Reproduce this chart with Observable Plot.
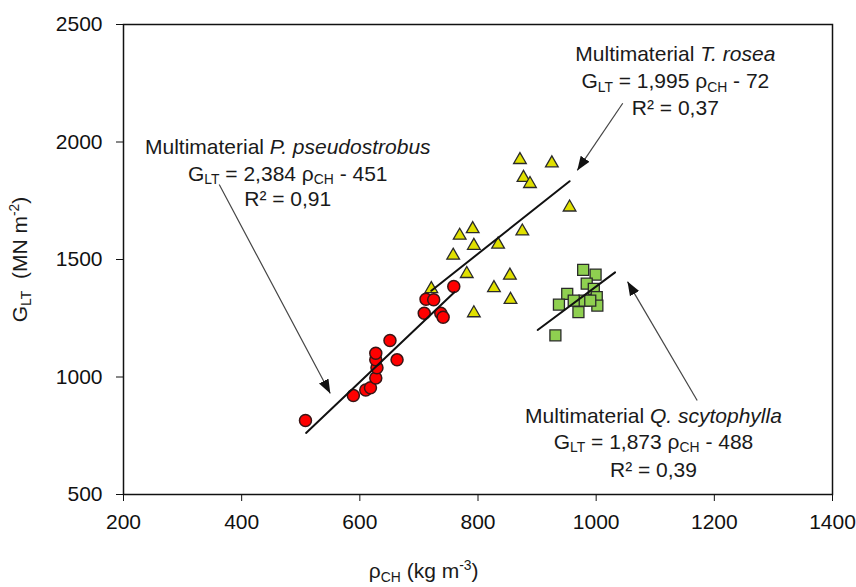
<!DOCTYPE html>
<html><head><meta charset="utf-8">
<script src="https://cdn.jsdelivr.net/npm/d3@7"></script>
<script src="https://cdn.jsdelivr.net/npm/@observablehq/plot@0.6"></script>
<style>html,body{margin:0;padding:0;background:#fff;} #chart{width:856px;height:587px;}</style>
</head><body><div id="chart"></div>
<script>
// ---- axis ticks
const xTicks = [200, 400, 600, 800, 1000, 1200, 1400];
const yTicks = [500, 1000, 1500, 2000, 2500];

// ---- Multimaterial P. pseudostrobus (red circles)
const pseudostrobusX = [508, 589, 610, 618, 627, 629, 627, 627, 663, 651, 709, 737, 741, 712, 725, 759];
const pseudostrobusY = [815, 921, 945, 954, 996, 1039, 1073, 1101, 1073, 1155, 1271, 1271, 1254, 1331, 1329, 1385];

// ---- Multimaterial T. rosea (yellow triangles)
const roseaX = [871, 925, 877, 888, 955, 875, 791, 769, 793, 834, 758, 781, 854, 827, 855, 793, 721];
const roseaY = [1924, 1910, 1848, 1822, 1722, 1620, 1630, 1602, 1559, 1564, 1517, 1439, 1432, 1379, 1329, 1272, 1375];

// ---- Multimaterial Q. scytophylla (green squares)
const scytophyllaX = [978, 999, 984, 996, 951, 1001, 980, 962, 937, 970, 1002, 990, 931];
const scytophyllaY = [1456, 1436, 1397, 1375, 1354, 1340, 1325, 1325, 1308, 1276, 1304, 1325, 1177];

// ---- trend line end points
const trendSeries = ["P", "P", "T", "T", "Q", "Q"];
const trendX = [509, 760, 721, 955, 901, 1032];
const trendY = [762, 1361, 1367, 1833, 1200, 1445];

// ---- annotation arrows
const arrowX1 = [362, 1045, 1171];
const arrowY1 = [1819, 2165, 900];
const arrowX2 = [550, 968, 1053];
const arrowY2 = [930, 1879, 1406];

// ---- annotation texts
const annText = [
  "Multimaterial *P. pseudostrobus*", "G_{LT} = 2,384 ρ_{CH} - 451", "R² = 0,91",
  "Multimaterial *T. rosea*", "G_{LT} = 1,995 ρ_{CH} - 72", "R² = 0,37",
  "Multimaterial *Q. scytophylla*", "G_{LT} = 1,873 ρ_{CH} - 488", "R² = 0,39"
];
const annX = [478, 478, 478, 1134, 1134, 1134, 1097, 1097, 1097];
const annY = [1977, 1864, 1758, 2372, 2257, 2143, 832, 723, 602];

const xLabel = "ρ_{CH} (kg m^{-3})";
const yLabel = "G_{LT}  (MN m^{-2})";

const zip = (xs, ys) => xs.map((x, i) => ({x, y: ys[i]}));
const red = zip(pseudostrobusX, pseudostrobusY);
const yellow = zip(roseaX, roseaY);
const green = zip(scytophyllaX, scytophyllaY);
const trends = trendX.map((x, i) => ({x, y: trendY[i], s: trendSeries[i]}));
const arrows = arrowX1.map((x1, i) => ({x1, y1: arrowY1[i], x2: arrowX2[i], y2: arrowY2[i]}));
const anns = annText.map((t, i) => ({t, x: annX[i], y: annY[i]}));

const chart = Plot.plot({
  width: 856, height: 587,
  marginLeft: 123, marginRight: 24, marginTop: 24, marginBottom: 93,
  style: {background: "white", color: "#111", fontFamily: "'Liberation Sans', Arial, sans-serif", fontSize: "21px", overflow: "visible"},
  x: {domain: [200, 1400], ticks: xTicks, tickSize: 7, tickPadding: 13, tickFormat: d3.format("d"), label: null},
  y: {domain: [500, 2500], ticks: yTicks, tickSize: 7, tickPadding: 14, tickFormat: d3.format("d"), label: null},
  marks: [
    Plot.dot(yellow, {x: "x", y: "y", symbol: "triangle", r: 4.7, fill: "#e0e000", stroke: "#2a2a2a", strokeWidth: 1.3}),
    Plot.dot(green, {x: "x", y: "y", symbol: "square", r: 6.2, fill: "#8fd050", stroke: "#2a2a2a", strokeWidth: 1.3}),
    Plot.dot(red, {x: "x", y: "y", r: 6, fill: "#ff0000", stroke: "#3a1515", strokeWidth: 1.5}),
    Plot.line(trends, {x: "x", y: "y", z: "s", stroke: "#111", strokeWidth: 2}),
    Plot.link(arrows, {x1: "x1", y1: "y1", x2: "x2", y2: "y2", stroke: "#444", strokeWidth: 1.2}),
    Plot.text(anns, {x: "x", y: "y", text: "t", fontSize: 21, fill: "#1a1a1a"}),
    Plot.text([xLabel], {x: 708, y: 172, text: d => d, fontSize: 21, fill: "#1a1a1a"}),
    Plot.text([yLabel], {x: 26, y: 1500, text: d => d, rotate: -90, fontSize: 21, fill: "#1a1a1a"}),
    Plot.frame({stroke: "#111", strokeWidth: 1.5})
  ]
});
document.getElementById("chart").append(chart);

// ---- post-processing: sub/superscripts, italics, filled arrowheads
const ns = "http://www.w3.org/2000/svg";
const svg = chart.tagName.toLowerCase() === "svg" ? chart : chart.querySelector("svg");
function rich(el) {
  const s = el.textContent;
  if (!/(_\{|\^\{|\*)/.test(s)) return;
  const fs = parseFloat(el.getAttribute("font-size")) || parseFloat(getComputedStyle(el).fontSize) || 21;
  const parts = s.split(/(_\{[^}]*\}|\^\{[^}]*\}|\*[^*]+\*)/).filter(Boolean);
  while (el.firstChild) el.removeChild(el.firstChild);
  let cur = 0;
  for (const p of parts) {
    let txt = p, shift = 0, small = false, italic = false;
    if (p.startsWith("_{")) { txt = p.slice(2, -1); shift = 0.17 * fs; small = true; }
    else if (p.startsWith("^{")) { txt = p.slice(2, -1); shift = -0.38 * fs; small = true; }
    else if (p.startsWith("*")) { txt = p.slice(1, -1); italic = true; }
    const t = document.createElementNS(ns, "tspan");
    if (Math.abs(shift - cur) > 0.01) t.setAttribute("dy", (shift - cur).toFixed(2));
    cur = shift;
    if (small) t.setAttribute("font-size", (0.66 * fs).toFixed(1));
    if (italic) t.setAttribute("font-style", "italic");
    t.textContent = txt;
    el.appendChild(t);
  }
}
svg.querySelectorAll('g[aria-label="text"] text').forEach(rich);

const defs = document.createElementNS(ns, "defs");
const marker = document.createElementNS(ns, "marker");
marker.setAttribute("id", "ahead");
marker.setAttribute("viewBox", "-10 -5 10 10");
marker.setAttribute("refX", "0");
marker.setAttribute("refY", "0");
marker.setAttribute("markerWidth", "14");
marker.setAttribute("markerHeight", "14");
marker.setAttribute("markerUnits", "userSpaceOnUse");
marker.setAttribute("orient", "auto");
const mp = document.createElementNS(ns, "path");
mp.setAttribute("d", "M-10,-3.8L0,0L-10,3.8Z");
mp.setAttribute("fill", "#111");
marker.appendChild(mp);
defs.appendChild(marker);
svg.insertBefore(defs, svg.firstChild);
svg.querySelectorAll('g[aria-label="link"] path').forEach(p => p.setAttribute("marker-end", "url(#ahead)"));
</script>
</body></html>
